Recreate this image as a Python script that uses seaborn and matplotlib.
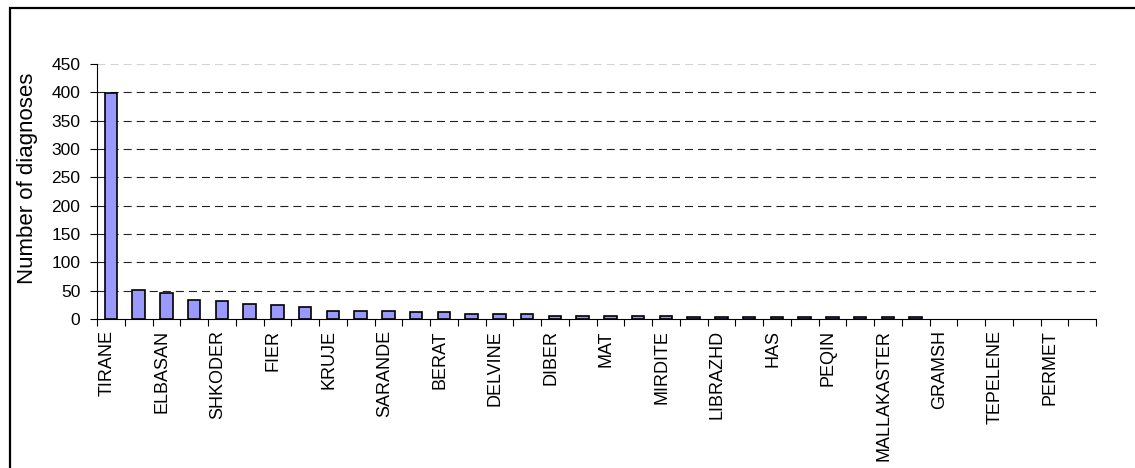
import matplotlib
matplotlib.use("Agg")
import numpy as np
import pandas as pd
import seaborn as sns
import matplotlib.pyplot as plt
import matplotlib.transforms as mtransforms
from matplotlib.patches import Rectangle
from matplotlib.ticker import FixedLocator

# Districts ordered by number of diagnoses (every second name is shown on the axis)
districts = [
    "TIRANE", "DURRES", "ELBASAN", "VLORE", "SHKODER", "KORCE", "FIER", "LEZHE",
    "KRUJE", "LUSHNJE", "SARANDE", "GJIROKASTER", "BERAT", "KAVAJE", "DELVINE",
    "POGRADEC", "DIBER", "KUKES", "MAT", "KURBIN", "MIRDITE", "KUCOVE", "LIBRAZHD",
    "PUKE", "HAS", "BULQIZE", "PEQIN", "DEVOLL", "MALLAKASTER", "TROPOJE", "GRAMSH",
    "KOLONJE", "TEPELENE", "SKRAPAR", "PERMET", "MALESI E MADHE",
]
diagnoses = [
    398, 52, 46, 34, 31, 27, 24, 21, 15, 15, 15, 12, 12, 9, 9, 9, 6, 6,
    6, 6, 6, 3, 3, 3, 3, 3, 3, 3, 3, 3, 0, 0, 0, 0, 0, 0,
]
y_ticks = list(range(0, 451, 50))

sns.set_style("white")
plt.rcParams["font.family"] = ["Liberation Sans", "DejaVu Sans"]
plt.rcParams["lines.scale_dashes"] = False
for key in ("text.color", "axes.labelcolor", "xtick.color", "ytick.color"):
    plt.rcParams[key] = "black"

W, H = 1135, 468
fig = plt.figure(figsize=(W / 100, H / 100), dpi=100)
ax = fig.add_axes([97 / W, 1 - 319 / H, 999 / W, 255 / H])

df = pd.DataFrame({"district": districts, "diagnoses": diagnoses})
sns.barplot(
    data=df, x="district", y="diagnoses", order=districts,
    color="#9999FF", saturation=1, edgecolor="black", linewidth=1.2,
    width=0.45, ax=ax, zorder=3,
)
# districts with no diagnoses get no visible bar outline
for patch in ax.patches:
    if patch.get_height() == 0:
        patch.set_visible(False)

# dashed horizontal gridlines; the top one is drawn faintly
for yv in y_ticks[1:]:
    col = "#d4d4d4" if yv == y_ticks[-1] else "#222222"
    ax.axhline(yv, color=col, lw=0.8, ls=(0, (5.8, 3.6)), zorder=1)

ax.set_xlim(-0.5, len(districts) - 0.5)
ax.set_ylim(0, 450)
ax.set_yticks(y_ticks)
ax.tick_params(axis="y", direction="out", length=5, width=0.8, pad=7,
               labelsize=12.5, colors="black", left=True)

ax.set_xticks(range(0, len(districts), 2))
ax.set_xticklabels(districts[::2], rotation=90, fontsize=13, color="black")
ax.tick_params(axis="x", which="major", length=0, pad=8)
ax.xaxis.set_minor_locator(FixedLocator(np.arange(-0.5, len(districts), 1)))
ax.tick_params(axis="x", which="minor", direction="out", length=5, width=0.8,
               color="black", bottom=True)
shift = mtransforms.ScaledTranslation(-4 / 100, 0, fig.dpi_scale_trans)
for lbl in ax.get_xticklabels():
    lbl.set_transform(lbl.get_transform() + shift)

ax.set_xlabel("")
ax.set_ylabel("Number of diagnoses", fontsize=16, color="black")
ax.yaxis.set_label_coords(-0.059, 0.55)

for side in ("top", "right"):
    ax.spines[side].set_visible(False)
for side in ("left", "bottom"):
    ax.spines[side].set_color("black")
    ax.spines[side].set_linewidth(0.8)

# outer chart frame
fig.add_artist(Rectangle((10 / W, -0.1), 1.2, 1 - 8 / H + 0.1,
                         transform=fig.transFigure, fill=False,
                         edgecolor="black", lw=1.6))

fig.savefig("out.png", dpi=100)
